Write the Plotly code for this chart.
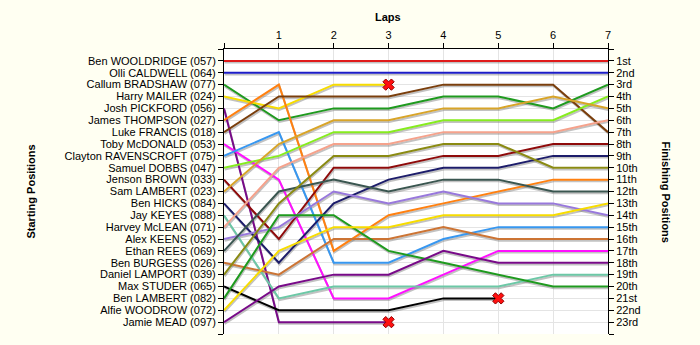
import plotly.graph_objects as go

drivers = [
    "Ben WOOLDRIDGE (057)", "Olli CALDWELL (064)", "Callum BRADSHAW (077)",
    "Harry MAILER (024)", "Josh PICKFORD (056)", "James THOMPSON (027)",
    "Luke FRANCIS (018)", "Toby McDONALD (053)", "Clayton RAVENSCROFT (075)",
    "Samuel DOBBS (047)", "Jenson BROWN (033)", "Sam LAMBERT (023)",
    "Ben HICKS (084)", "Jay KEYES (088)", "Harvey McLEAN (071)",
    "Alex KEENS (052)", "Ethan REES (069)", "Ben BURGESS (026)",
    "Daniel LAMPORT (039)", "Max STUDER (065)", "Ben LAMBERT (082)",
    "Alfie WOODROW (072)", "Jamie MEAD (097)",
]

laps = [0, 1, 2, 3, 4, 5, 6, 7]
lap_tick_labels = ["", "1", "2", "3", "4", "5", "6", "7"]

# position of each driver (in driver order) at each lap; None = retired
lap0 = list(range(1, 24))
lap1 = [1, 2, 6, 5, 23, 3, 4, 11, 7, 9, 16, 8, 18, 21, 10, 15, 12, 19, 13, 22, 14, 17, 20]
lap2 = [1, 2, 5, 3, 23, 17, 4, 21, 18, 7, 10, 6, 13, 20, 8, 12, 11, 16, 9, 22, 14, 15, 19]
lap3 = [1, 2, 5, 3, 23, 14, 4, 21, 18, 7, 10, 6, 11, 20, 8, 13, 12, 16, 9, 22, 17, 15, 19]
lap4 = [1, 2, 4, None, None, 13, 3, 19, 16, 6, 9, 5, 10, 20, 7, 12, 11, 15, 8, 21, 18, 14, 17]
lap5 = [1, 2, 4, None, None, 12, 3, 17, 15, 6, 9, 5, 10, 20, 7, 13, 11, 16, 8, 21, 19, 14, 18]
lap6 = [1, 2, 5, None, None, 11, 3, 17, 15, 6, 8, 4, 9, 19, 7, 13, 12, 16, 10, None, 20, 14, 18]
lap7 = [1, 2, 3, None, None, 11, 7, 17, 15, 4, 8, 5, 9, 19, 6, 14, 12, 16, 10, None, 20, 13, 18]

finish_labels = ["1st", "2nd", "3rd"] + [f"{i}th" for i in range(4, 21)] + ["21st", "22nd", "23rd"]

driver_colors = [
    "#E01B1B", "#1C1CC8", "#1E9A1E", "#F7DC00", "#780A88", "#FF8010",
    "#7A3E0C", "#FF10FF", "#3797F0", "#86EC1E", "#8E0A0A", "#D8A428",
    "#1C1C6A", "#6CC8A6", "#F5A28C", "#9878DC", "#3A5650", "#CC7434",
    "#8A8A12", "#000000", "#1E9A1E", "#F7DC00", "#780A88",
]

all_laps = [lap0, lap1, lap2, lap3, lap4, lap5, lap6, lap7]

fig = go.Figure()
shadow_dy = 0.14
shadow_dx = 0.012

for i, name in enumerate(drivers):
    ys = [lp[i] for lp in all_laps]
    fig.add_trace(go.Scatter(
        x=[x + shadow_dx for x in laps],
        y=[(y + shadow_dy) if y is not None else None for y in ys],
        mode="lines", line=dict(color="rgba(120,120,120,0.45)", width=2),
        hoverinfo="skip", showlegend=False))

for i, name in enumerate(drivers):
    ys = [lp[i] for lp in all_laps]
    fig.add_trace(go.Scatter(
        x=laps, y=ys, mode="lines", line=dict(color=driver_colors[i], width=2),
        name=name, hoverinfo="skip", showlegend=False))

# retirement markers
ret_x, ret_y = [], []
for i, name in enumerate(drivers):
    ys = [lp[i] for lp in all_laps]
    if ys[-1] is None:
        last = max(k for k, v in enumerate(ys) if v is not None)
        ret_x.append(laps[last])
        ret_y.append(ys[last])
fig.add_trace(go.Scatter(
    x=ret_x, y=ret_y, mode="markers",
    marker=dict(symbol="x", size=10, color="#FF1010", line=dict(color="#900000", width=1)),
    hoverinfo="skip", showlegend=False))

# dummy trace for right axis
fig.add_trace(go.Scatter(x=[0], y=[1], yaxis="y2", mode="markers",
                         marker=dict(opacity=0), hoverinfo="skip", showlegend=False))

font = dict(family="Liberation Sans, Arial, sans-serif", size=11, color="#000000")
tickvals = list(range(0, 25))

fig.update_layout(
    width=700, height=345,
    margin=dict(l=224, r=92, t=49, b=11),
    paper_bgcolor="#FFFFF2", plot_bgcolor="#FFFFFF",
    font=font,
    xaxis=dict(side="top", range=[0, 7], tickvals=laps, ticktext=lap_tick_labels,
               showgrid=True, gridcolor="#E4E4E4", gridwidth=1, zeroline=False,
               showline=True, linecolor="#000000", linewidth=1,
               ticks="outside", ticklen=5, tickcolor="#000000", tickfont=font),
    yaxis=dict(range=[24, 0], tickvals=tickvals,
               ticktext=[""] + drivers + [""],
               showgrid=True, gridcolor="#E4E4E4", gridwidth=1, zeroline=False,
               showline=True, linecolor="#000000", linewidth=1,
               ticks="outside", ticklen=5, tickcolor="#000000", tickfont=font),
    yaxis2=dict(range=[24, 0], tickvals=tickvals,
                ticktext=[""] + finish_labels + [""],
                overlaying="y", side="right", showgrid=False, zeroline=False,
                showline=True, linecolor="#000000", linewidth=1,
                ticks="outside", ticklen=5, tickcolor="#000000", tickfont=font),
    annotations=[
        dict(text="<b>Laps</b>", xref="paper", yref="paper",
             x=(388 - 224) / 384, y=1 + (49 - 17) / 285, showarrow=False,
             font=dict(family="Liberation Sans, Arial, sans-serif", size=11, color="#000000"),
             xanchor="center", yanchor="middle"),
        dict(text="<b>Starting Positions</b>", xref="paper", yref="paper",
             x=(30 - 224) / 384, y=0.5, showarrow=False, textangle=-90,
             font=dict(family="Liberation Sans, Arial, sans-serif", size=11, color="#000000"),
             xanchor="center", yanchor="middle"),
        dict(text="<b>Finishing Positions</b>", xref="paper", yref="paper",
             x=(666 - 224) / 384, y=0.5, showarrow=False, textangle=90,
             font=dict(family="Liberation Sans, Arial, sans-serif", size=11, color="#000000"),
             xanchor="center", yanchor="middle"),
    ],
)

fig.write_html("out.html")
